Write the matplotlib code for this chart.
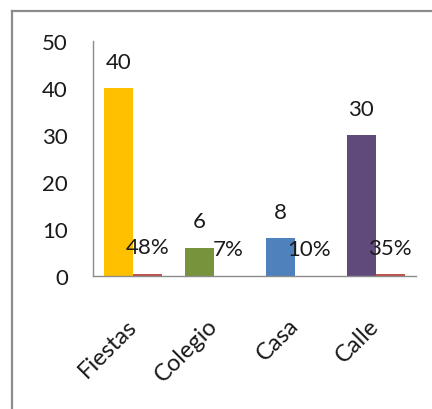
import matplotlib
matplotlib.use("Agg")
import matplotlib.pyplot as plt
from matplotlib.lines import Line2D
import numpy as np

categories = ["Fiestas", "Colegio", "Casa", "Calle"]
counts = [40, 6, 8, 30]
shares = [0.48, 0.07, 0.10, 0.35]
count_colors = ["#FFC000", "#77933C", "#4F81BD", "#604A7B"]
share_color = "#C0504D"
yticks = [0, 10, 20, 30, 40, 50]

plt.rcParams['font.family'] = ['Lato', 'DejaVu Sans']
FS = 16
FSX = 17

fig = plt.figure(figsize=(4.32, 4.10), dpi=100)
# outer chart border (top and left visible)
bx, by = 11.5/432, 1 - 11.5/410
fig.lines.append(Line2D([bx, 1.0], [by, by], transform=fig.transFigure,
                        color="#8C8C8C", linewidth=1.6))
fig.lines.append(Line2D([bx, bx], [0.0, by], transform=fig.transFigure,
                        color="#8C8C8C", linewidth=1.6))

ax = fig.add_axes([93/432, 1 - 277/410, (416 - 93)/432, (277 - 42)/410])
x = np.arange(len(categories))
w = 0.36
b1 = ax.bar(x - w/2, counts, width=w, color=count_colors)
b2 = ax.bar(x + w/2, shares, width=w, color=share_color)

for rect, v in zip(b1, counts):
    ax.annotate(str(v), (rect.get_x() + rect.get_width()/2, rect.get_height()),
                xytext=(0, 19), textcoords="offset points",
                ha="center", va="center", fontsize=FS, color="#1a1a1a")
for rect, v in zip(b2, shares):
    ax.annotate(f"{v:.0%}", (rect.get_x() + rect.get_width()/2, rect.get_height()),
                xytext=(0, 19), textcoords="offset points",
                ha="center", va="center", fontsize=FS, color="#1a1a1a")

ax.set_xlim(-0.5, len(categories) - 0.5)
ax.set_ylim(0, 50)
ax.set_yticks(yticks)
ax.set_xticks(x)
ax.set_xticklabels(categories, rotation=45, ha="right", va="center",
                   rotation_mode="anchor", fontsize=FSX, color="#1a1a1a")
ax.tick_params(axis="y", length=0, pad=18, labelsize=FS, labelcolor="#1a1a1a")
ax.tick_params(axis="x", length=0, pad=33)
for s in ["top", "right"]:
    ax.spines[s].set_visible(False)
for s in ["left", "bottom"]:
    ax.spines[s].set_color("#8C8C8C")
    ax.spines[s].set_linewidth(1.0)

fig.savefig("out.png", dpi=100)
